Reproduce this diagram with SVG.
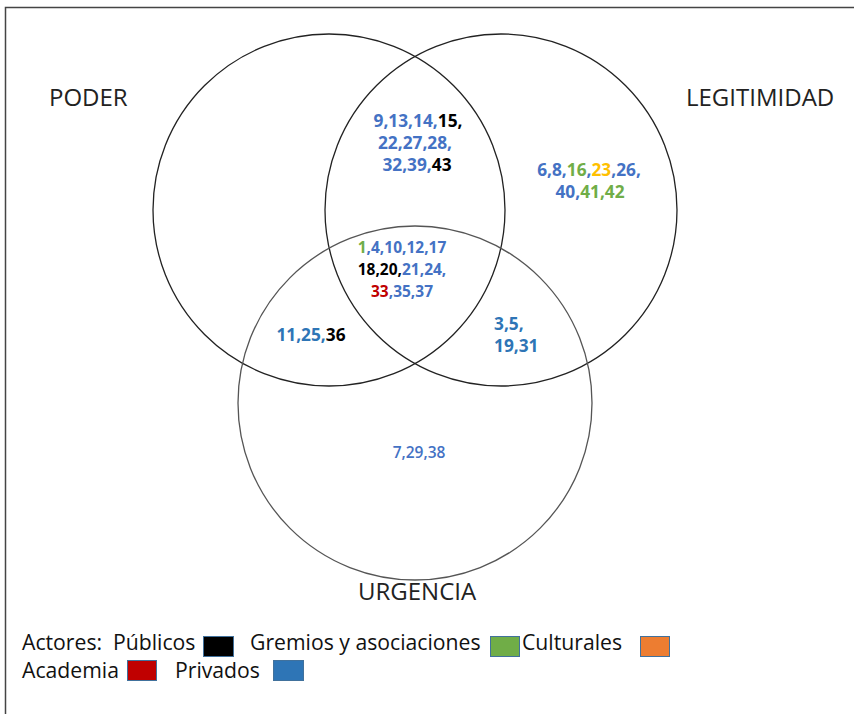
<svg xmlns="http://www.w3.org/2000/svg" width="854" height="714" viewBox="0 0 854 714">
<style>
.c{fill:none;stroke:#222;stroke-width:1.3}
.lab{font-family:"Open Sans","Liberation Sans",sans-serif;font-size:24px;fill:#222}
.n{font-family:"Open Sans","Liberation Sans",sans-serif;font-size:17.3px;font-weight:bold;text-anchor:middle}
.b{fill:#4472C4}.d{fill:#2E75B6}.k{fill:#000}.g{fill:#70AD47}.o{fill:#FFC000}.r{fill:#C00000}
.lg{font-family:"Open Sans","Liberation Sans",sans-serif;font-size:21.2px;fill:#111}
.sw{stroke:#41719C;stroke-width:1}
</style>
<rect width="854" height="714" fill="#fff"/>
<path d="M5.5,714 V7.5 H854" fill="none" stroke="#444" stroke-width="1.5"/>
<g id="poder">
<circle class="c" cx="329" cy="210" r="176"/>
<text class="lab" x="49" y="106">PODER</text>
</g>
<g id="legitimidad">
<circle class="c" cx="501" cy="210" r="176"/>
<text class="lab" x="686" y="106">LEGITIMIDAD</text>
</g>
<g id="urgencia">
<circle class="c" cx="415" cy="403" r="177" style="stroke:#555"/>
<text class="lab" x="358" y="600">URGENCIA</text>
</g>
<g id="poder-legitimidad">
<text class="n" x="418" y="127"><tspan class="b">9,13,14,</tspan><tspan class="k">15,</tspan></text>
<text class="n" x="415" y="149"><tspan class="b">22,27,28,</tspan></text>
<text class="n" x="417" y="171"><tspan class="b">32,39,</tspan><tspan class="k">43</tspan></text>
</g>
<g id="solo-legitimidad">
<text class="n" x="589" y="176"><tspan class="b">6,8,</tspan><tspan class="g">16</tspan><tspan class="b">,</tspan><tspan class="o">23</tspan><tspan class="b">,26,</tspan></text>
<text class="n" x="590" y="198"><tspan class="b">40,</tspan><tspan class="g">41,42</tspan></text>
</g>
<g id="centro">
<text class="n" x="402" y="253" style="font-size:15.5px"><tspan class="g">1</tspan><tspan class="b">,4,10,12,17</tspan></text>
<text class="n" x="402" y="275" style="font-size:15.5px"><tspan class="k">18,20,</tspan><tspan class="b">21,24,</tspan></text>
<text class="n" x="402" y="297" style="font-size:15.5px"><tspan class="r">33</tspan><tspan class="b">,35,37</tspan></text>
</g>
<g id="poder-urgencia">
<text class="n" x="311" y="341"><tspan class="d">11,25,</tspan><tspan class="k">36</tspan></text>
</g>
<g id="legitimidad-urgencia">
<text class="n" x="494" y="330" style="text-anchor:start"><tspan class="d">3,5,</tspan></text>
<text class="n" x="494" y="352" style="text-anchor:start"><tspan class="d">19,31</tspan></text>
</g>
<g id="solo-urgencia">
<text class="n" x="419" y="458" style="font-size:15.5px;font-weight:600"><tspan class="b">7,29,38</tspan></text>
</g>
<g id="leyenda">
<text class="lg" x="22" y="650" xml:space="preserve">Actores:  Públicos</text>
<rect class="sw" x="203.5" y="636.5" width="30" height="20" fill="#000"/>
<text class="lg" x="250" y="650">Gremios y asociaciones</text>
<rect class="sw" x="490.5" y="636.5" width="29" height="20" fill="#70AD47"/>
<text class="lg" x="522" y="650">Culturales</text>
<rect class="sw" x="640.5" y="636.5" width="29" height="20" fill="#ED7D31"/>
<text class="lg" x="22" y="678">Academia</text>
<rect class="sw" x="127.5" y="660.5" width="29" height="20" fill="#C00000"/>
<text class="lg" x="175" y="678">Privados</text>
<rect class="sw" x="273.5" y="660.5" width="30" height="20" fill="#2E75B6"/>
</g>
</svg>
